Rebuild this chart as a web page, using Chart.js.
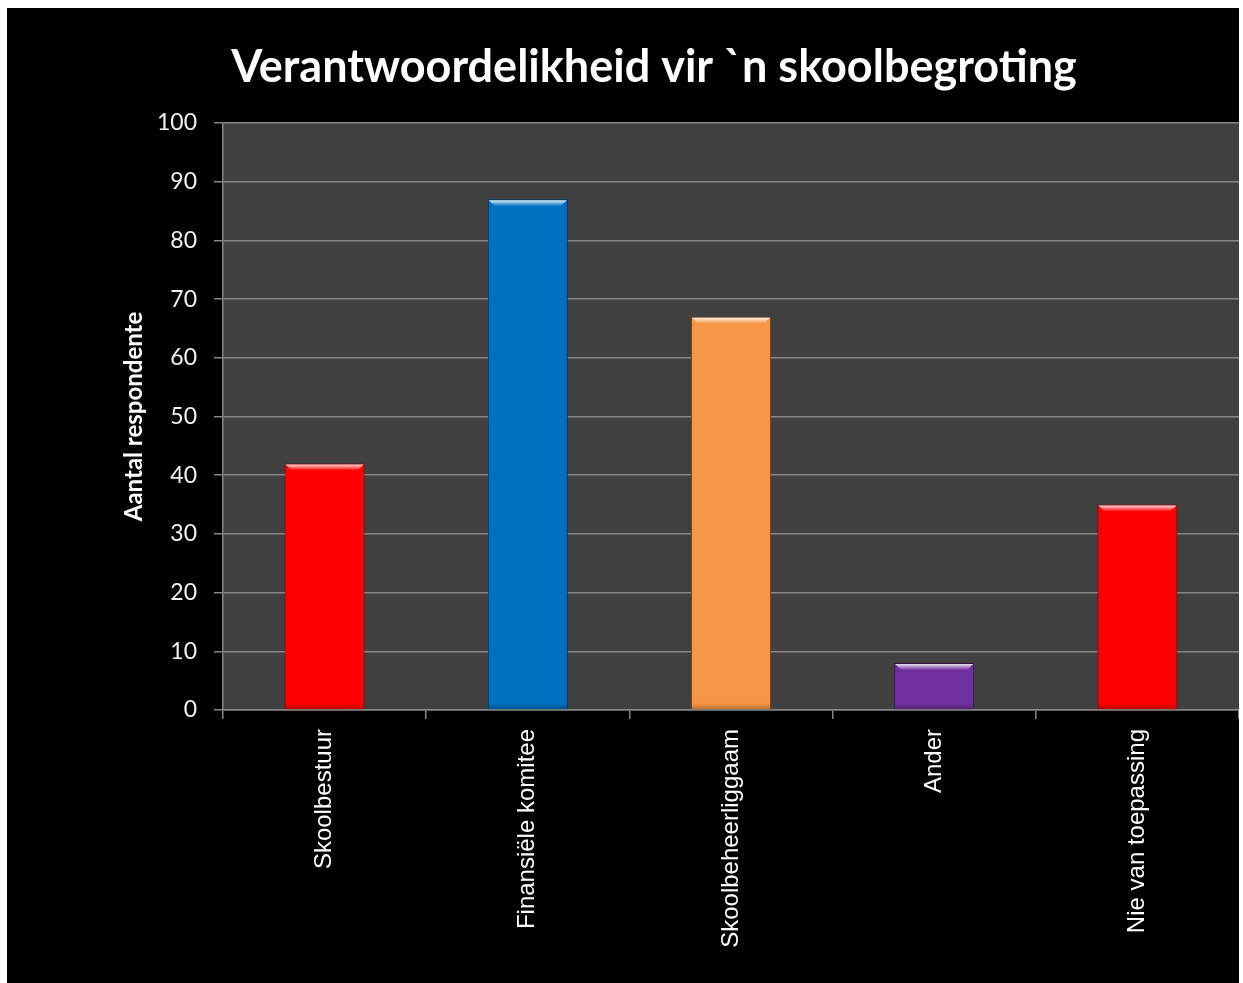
<!DOCTYPE html>
<html>
<head>
<meta charset="utf-8">
<script src="https://cdn.jsdelivr.net/npm/chart.js@4.4.1/dist/chart.umd.min.js"></script>
<style>
  html, body { margin: 0; padding: 0; background: #ffffff; }
  #wrap { position: absolute; left: 7px; top: 8px; width: 1232px; height: 975px; background: #000000; }
</style>
</head>
<body>
<div id="wrap"><canvas id="chart"></canvas></div>
<script>
// data
const categories = ["Skoolbestuur", "Finansiële komitee", "Skoolbeheerliggaam", "Ander", "Nie van toepassing"];
const respondents = [42, 87, 67, 8, 35];
const barColors = ["#ff0000", "#0070c0", "#f79646", "#7030a0", "#ff0000"];
const yTicks = [0, 10, 20, 30, 40, 50, 60, 70, 80, 90, 100];

const titleText = "Verantwoordelikheid vir `n skoolbegroting";
const yTitleText = "Aantal respondente";

function lighten(hex, amt) {
    const n = parseInt(hex.slice(1), 16);
    const r = (n >> 16) & 255, g = (n >> 8) & 255, b = n & 255;
    const f = c => Math.round(c + (255 - c) * amt);
    return `rgb(${f(r)},${f(g)},${f(b)})`;
}
function darken(hex, amt) {
    const n = parseInt(hex.slice(1), 16);
    const r = (n >> 16) & 255, g = (n >> 8) & 255, b = n & 255;
    const f = c => Math.round(c * (1 - amt));
    return `rgb(${f(r)},${f(g)},${f(b)})`;
}

// dark grey plot area
const plotBg = {
    id: "plotBg",
    beforeDraw(chart) {
        const { ctx, chartArea: a } = chart;
        ctx.save();
        ctx.fillStyle = "#404040";
        ctx.fillRect(a.left, a.top, a.right - a.left, a.bottom - a.top);
        ctx.restore();
    }
};

// small bevel highlight on top of every bar
const bevel = {
    id: "bevel",
    afterDatasetsDraw(chart) {
        const ctx = chart.ctx;
        const meta = chart.getDatasetMeta(0);
        meta.data.forEach((bar, i) => {
            const { x, y, base, width } = bar.getProps(["x", "y", "base", "width"], true);
            const l = x - width / 2 + 1, r = x + width / 2 - 1;
            const h = Math.min(6, (base - y) / 2);
            ctx.save();
            const g = ctx.createLinearGradient(0, y + 1, 0, y + 1 + h);
            g.addColorStop(0, lighten(barColors[i], 0.85));
            g.addColorStop(1, barColors[i]);
            ctx.fillStyle = g;
            ctx.beginPath();
            ctx.moveTo(l, y + 1);
            ctx.lineTo(r, y + 1);
            ctx.lineTo(r - h, y + 1 + h);
            ctx.lineTo(l + h, y + 1 + h);
            ctx.closePath();
            ctx.fill();
            // faint shading at the bottom of the bar
            const gb = ctx.createLinearGradient(0, base - h, 0, base);
            gb.addColorStop(0, "rgba(0,0,0,0)");
            gb.addColorStop(1, "rgba(0,0,0,0.25)");
            ctx.fillStyle = gb;
            ctx.fillRect(l, base - h, r - l, h);
            ctx.restore();
        });
    }
};

new Chart(document.getElementById("chart"), {
    type: "bar",
    data: {
        labels: categories,
        datasets: [{
            label: yTitleText,
            data: respondents,
            backgroundColor: barColors,
            borderColor: barColors.map(c => darken(c, 0.55)),
            borderWidth: 1,
            barPercentage: 0.394,
            categoryPercentage: 1
        }]
    },
    options: {
        responsive: true,
        maintainAspectRatio: false,
        animation: false,
        layout: { padding: { left: 62, right: 0, top: 0, bottom: 0 } },
        plugins: {
            legend: { display: false },
            tooltip: { enabled: false },
            title: {
                display: true,
                text: titleText,
                color: "#ffffff",
                font: { family: "Lato", size: 45, weight: "bold" },
                padding: { top: 32, bottom: 29 }
            }
        },
        scales: {
            x: {
                grid: {
                    display: true,
                    offset: true,
                    drawOnChartArea: false,
                    drawTicks: true,
                    tickLength: 9,
                    color: "#868686",
                    lineWidth: 1.5
                },
                border: { display: true, color: "#868686", width: 1.5 },
                ticks: {
                    color: "#ffffff",
                    font: { family: "Liberation Sans", size: 24 },
                    maxRotation: 90,
                    minRotation: 90,
                    padding: 10,
                    autoSkip: false
                },
                afterFit(scale) { scale.height = 273; }
            },
            y: {
                min: 0,
                max: 100,
                afterBuildTicks(scale) { scale.ticks = yTicks.map(v => ({ value: v })); },
                grid: {
                    color: "#868686",
                    lineWidth: 1.5,
                    drawTicks: true,
                    tickLength: 9
                },
                border: { display: true, color: "#868686", width: 1.5 },
                ticks: {
                    color: "#f2f2f2",
                    font: { family: "Lato", size: 23 },
                    padding: 17
                },
                title: {
                    display: true,
                    text: yTitleText,
                    color: "#ffffff",
                    font: { family: "Lato", size: 24, weight: "bold" },
                    padding: { top: 51, bottom: 0 }
                },
                afterFit(scale) { scale.width = 154; }
            }
        }
    },
    plugins: [plotBg, bevel]
});
</script>
</body>
</html>
